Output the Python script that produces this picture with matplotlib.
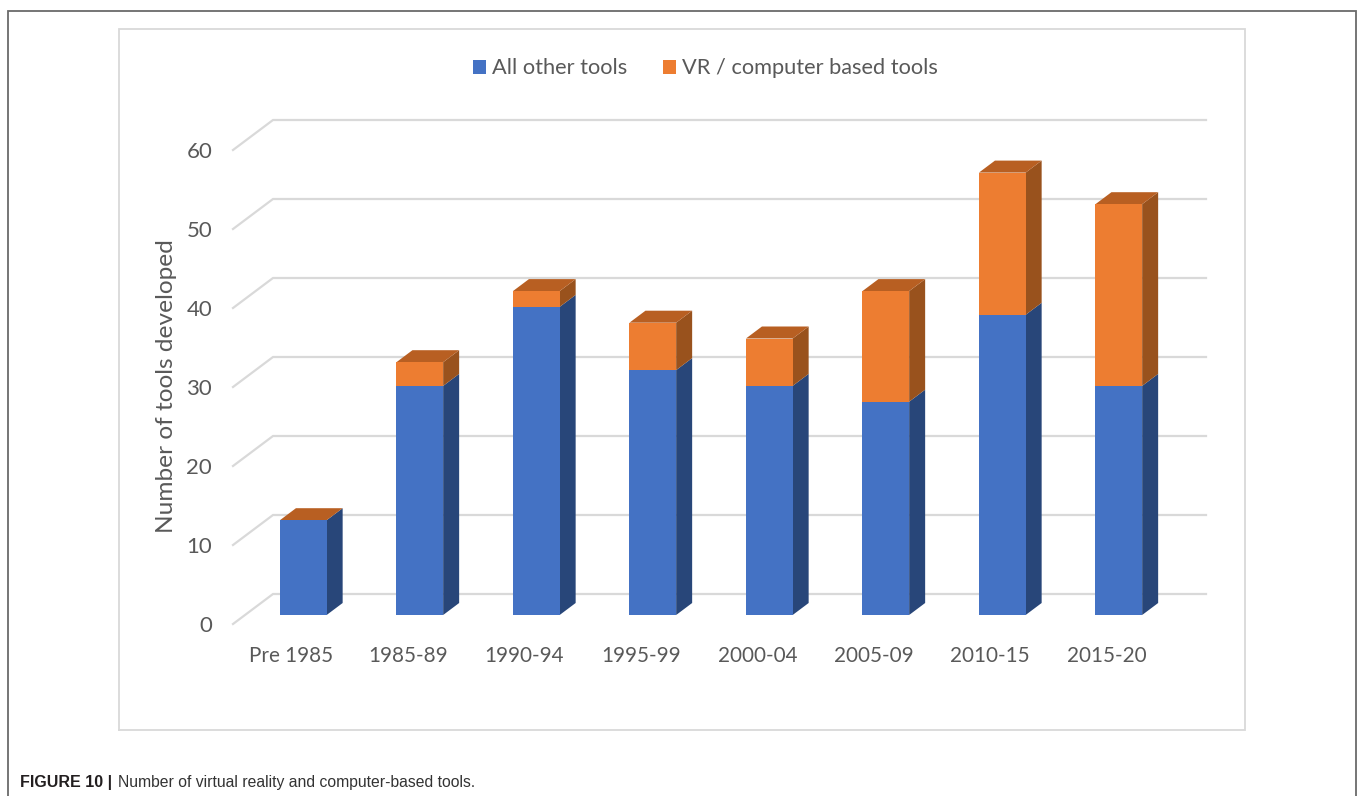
import matplotlib
matplotlib.use('Agg')
from matplotlib import pyplot as plt
from matplotlib.lines import Line2D
from matplotlib.transforms import ScaledTranslation
import numpy as np

categories = ['Pre 1985', '1985-89', '1990-94', '1995-99', '2000-04', '2005-09', '2010-15', '2015-20']
other_tools = [12, 29, 39, 31, 29, 27, 38, 29]
vr_tools = [0, 3, 2, 6, 6, 14, 18, 23]
y_ticks = [0, 10, 20, 30, 40, 50, 60]

W, H = 1360, 796
BLUE, BLUE_SIDE = '#4472C4', '#284679'
ORANGE, ORANGE_SIDE, ORANGE_TOP = '#ED7D31', '#99521D', '#B85F22'
GRID = '#D9D9D9'
TEXT = '#595959'

plt.rcParams['font.family'] = ['Lato', 'DejaVu Sans']

# pixels per category / per unit on the front plane of the bars
X_STEP = 116.5
Y_STEP = 7.9
BAR_W = 46.7 / X_STEP
DEPTH_X = 16 / X_STEP
DEPTH_Y = 12 / Y_STEP


def fx(px):
    return px / W


def fy(py):
    return 1 - py / H


def border(xs, ys, color, lw):
    fig.add_artist(Line2D([fx(x) for x in xs], [fy(y) for y in ys], color=color, lw=lw, solid_joinstyle='miter'))


fig = plt.figure(figsize=(W / 100, H / 100), dpi=100, facecolor='white')

border([7.5, 7.5, 1356, 1356], [796, 11, 11, 796], '#6a6a6a', 1.3)
border([119.5, 119.5, 1245, 1245, 119.5], [730, 28.5, 28.5, 730, 730], '#D9D9D9', 1.3)

# main axes: bars sit on this one, bottom edge is y = 0 of the front plane
ax_left, ax_right = 233, 1206
ax = fig.add_axes([fx(ax_left), fy(615), (ax_right - ax_left) / W, 60 * Y_STEP / H])
ax.set_xlim((ax_left - 303.3) / X_STEP, (ax_right - 303.3) / X_STEP)
ax.set_ylim(0, 60)
ax.patch.set_visible(False)
for s in ax.spines.values():
    s.set_visible(False)

# floor and wall gridlines
x_front = ax.get_xlim()[0]
x_wall = (273 - 303.3) / X_STEP
x_end = ax.get_xlim()[1]
for v in y_ticks:
    ax.plot([x_front, x_wall, x_end], [v - 9 / Y_STEP, v + 21 / Y_STEP, v + 21 / Y_STEP],
            color=GRID, lw=1.6, clip_on=False, zorder=1, solid_joinstyle='miter')

x = np.arange(len(categories))
other = np.array(other_tools)
vr = np.array(vr_tools)
total = other + vr

bars_other = ax.bar(x, other, BAR_W, color=BLUE, label='All other tools', zorder=3)
bars_vr = ax.bar(x, vr, BAR_W, bottom=other, color=ORANGE, label='VR / computer based tools', zorder=3)

# right side faces and top caps give the bars their depth
for i in x:
    xr = i + BAR_W / 2
    xl = i - BAR_W / 2
    ax.fill([xr, xr + DEPTH_X, xr + DEPTH_X, xr],
            [0, DEPTH_Y, other[i] + DEPTH_Y, other[i]],
            color=BLUE_SIDE, lw=0, zorder=2.5, clip_on=False)
    ax.fill([xr, xr + DEPTH_X, xr + DEPTH_X, xr],
            [other[i], other[i] + DEPTH_Y, total[i] + DEPTH_Y, total[i]],
            color=ORANGE_SIDE, lw=0, zorder=2.5, clip_on=False)
    ax.fill([xl, xl + DEPTH_X, xr + DEPTH_X, xr],
            [total[i], total[i] + DEPTH_Y, total[i] + DEPTH_Y, total[i]],
            color=ORANGE_TOP, lw=0, zorder=2.5, clip_on=False)

ax.set_xticks(x, categories)
ax.set_yticks([])
ax.tick_params(axis='x', length=0, pad=22, labelsize=14.9, labelcolor=TEXT)

# category labels sit a bit left of their bars
shift = ScaledTranslation(-12 / 100, 0, fig.dpi_scale_trans)
for lab in ax.get_xticklabels():
    lab.set_transform(lab.get_transform() + shift)

# value axis lives on the front end of the gridlines, a little lower than the bars
ax_y = fig.add_axes([fx(ax_left), fy(624), (ax_right - ax_left) / W, 60 * Y_STEP / H])
ax_y.set_ylim(0, 60)
ax_y.patch.set_visible(False)
for s in ax_y.spines.values():
    s.set_visible(False)
ax_y.set_xticks([])
ax_y.set_yticks(y_ticks)
ax_y.tick_params(axis='y', length=0, pad=15, labelsize=16, labelcolor=TEXT)
ax_y.set_ylabel('Number of tools developed', fontsize=17.6, color=TEXT)
ax_y.yaxis.set_label_coords((177 - ax_left) / (ax_right - ax_left), (624 - 386) / (60 * Y_STEP))

fig.legend(handles=[bars_other, bars_vr], loc='center', bbox_to_anchor=(fx(705.5), fy(68.5)), ncol=2,
           frameon=False, fontsize=15.7, labelcolor=TEXT, handlelength=0.6, handleheight=0.6,
           handletextpad=0.3, columnspacing=1.6, borderpad=0)

cap_font = ['Liberation Sans', 'DejaVu Sans']
fig.text(fx(20), fy(782.5), 'FIGURE 10 |', fontsize=11.5, fontweight='bold', color='#231F20',
         family=cap_font, va='center', ha='left')
fig.text(fx(118), fy(782.5), 'Number of virtual reality and computer-based tools.', fontsize=11.3,
         color='#333333', family=cap_font, va='center', ha='left')

fig.savefig('out.png', dpi=100)
